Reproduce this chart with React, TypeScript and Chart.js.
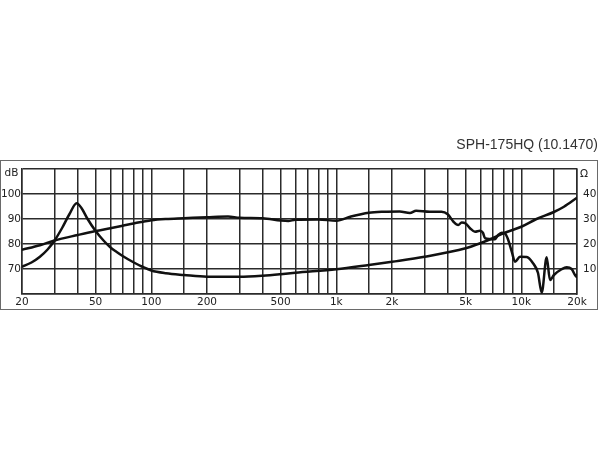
import { useEffect, useRef } from 'react';
import { Chart, registerables } from 'chart.js';

Chart.register(...registerables);

// ---- data ----
const titleText = 'SPH-175HQ (10.1470)';

const splFreq = [20, 25, 30, 40, 50, 60, 70, 80, 90, 100, 120, 150, 200, 260, 300, 400, 500, 550, 600, 800, 1000, 1200, 1500, 1800, 2200, 2500, 2700, 3200, 3700, 4000, 4300, 4560, 4760, 5000, 5280, 5620, 5980, 6200, 6370, 7200, 7500, 7840, 8170, 8500, 8880, 9250, 9840, 10700, 11570, 12300, 12890, 13710, 14290, 15000, 16500, 17580, 18710, 19900, 20000];
const splDb = [77.7, 79.5, 81.4, 83.6, 85.2, 86.3, 87.3, 88.2, 88.9, 89.5, 90.0, 90.3, 90.7, 91.0, 90.5, 90.3, 89.4, 89.2, 89.7, 89.8, 89.3, 91.0, 92.5, 92.9, 93.0, 92.4, 93.3, 92.9, 92.9, 91.9, 88.9, 87.6, 88.6, 88.2, 86.3, 84.9, 85.3, 84.5, 82.3, 81.9, 83.6, 84.5, 84.2, 81.6, 76.9, 72.9, 74.9, 74.8, 72.3, 68.5, 60.5, 74.7, 65.6, 67.6, 69.9, 70.7, 70.0, 66.9, 68.0];

const impFreq = [20, 22.5, 25, 27.5, 30, 33, 36, 39.5, 42, 45, 50, 55, 60, 65, 70, 80, 90, 100, 120, 150, 200, 300, 400, 500, 600, 1000, 1500, 2000, 3000, 5000, 6000, 7000, 8000, 10000, 12000, 15000, 17000, 20000];
const impOhm = [10.9, 12.6, 14.9, 17.8, 21.4, 26.5, 31.8, 36.3, 34.3, 30.3, 25.2, 21.5, 18.7, 16.8, 15.2, 12.7, 10.8, 9.4, 8.3, 7.6, 6.9, 6.9, 7.3, 7.9, 8.5, 9.9, 11.6, 12.9, 14.9, 18.3, 20.3, 22.3, 24.3, 26.9, 29.9, 32.8, 34.9, 38.5];

const gridFreqs = [20, 30, 40, 50, 60, 70, 80, 90, 100, 150, 200, 300, 400, 500, 600, 700, 800, 900, 1000, 1500, 2000, 3000, 4000, 5000, 6000, 7000, 8000, 9000, 10000, 15000, 20000];
const freqLabelValues = [20, 50, 100, 200, 500, 1000, 2000, 5000, 10000, 20000];
const freqLabelTexts = ['20', '50', '100', '200', '500', '1k', '2k', '5k', '10k', '20k'];

const dbGrid = [60, 65, 70, 75, 80, 85, 90, 95, 100, 105, 110];
const dbLabels = [70, 80, 90, 100];
const ohmGrid = [0, 5, 10, 15, 20, 25, 30, 35, 40, 45, 50];
const ohmLabels = [10, 20, 30, 40];
const dbUnit = 'dB';
const ohmUnit = 'Ω';

const tickFont = { family: '"DejaVu Sans", sans-serif', size: 10.5 };
const gridColor = '#2b2b2b';
const lineColor = '#111111';

export default function App() {
  const ref = useRef<HTMLCanvasElement | null>(null);

  useEffect(() => {
    if (!ref.current) return;

    const decor = {
      id: 'decor',
      afterDraw(chart: any) {
        const ctx = chart.ctx;
        ctx.save();
        // outer frame
        ctx.strokeStyle = '#6a6a6a';
        ctx.lineWidth = 1;
        ctx.strokeRect(0.5, 160.5, 597, 149);
        // title
        ctx.fillStyle = '#333333';
        ctx.font = '14px "Liberation Sans", Arial, sans-serif';
        ctx.textAlign = 'right';
        ctx.textBaseline = 'alphabetic';
        ctx.fillText(titleText, 598, 148.5);
        // unit labels
        ctx.fillStyle = '#222222';
        ctx.font = `${tickFont.size}px ${tickFont.family}`;
        ctx.textAlign = 'center';
        ctx.textBaseline = 'middle';
        ctx.fillText(dbUnit, 11.5, 173);
        ctx.textAlign = 'left';
        ctx.fillText(ohmUnit, 580, 174.5);
        ctx.restore();
      },
    };

    const chart = new Chart(ref.current, {
      type: 'line',
      data: {
        datasets: [
          {
            label: 'SPL',
            data: splFreq.map((f, i) => ({ x: f, y: splDb[i] })),
            borderColor: lineColor,
            borderWidth: 2.5,
            pointRadius: 0,
            cubicInterpolationMode: 'monotone',
            yAxisID: 'y',
          },
          {
            label: 'Impedance',
            data: impFreq.map((f, i) => ({ x: f, y: impOhm[i] })),
            borderColor: lineColor,
            borderWidth: 2.5,
            pointRadius: 0,
            cubicInterpolationMode: 'monotone',
            yAxisID: 'y2',
          },
        ],
      },
      options: {
        responsive: false,
        animation: false,
        devicePixelRatio: 1,
        layout: { padding: { top: 169, bottom: 450 - 294 - 16, left: 0, right: 0 } },
        plugins: { legend: { display: false }, tooltip: { enabled: false }, title: { display: false } },
        scales: {
          x: {
            type: 'logarithmic',
            min: 20,
            max: 20000,
            afterBuildTicks: (s: any) => {
              s.ticks = gridFreqs.map((v) => ({ value: v }));
            },
            afterFit: (s: any) => {
              s.height = 16;
            },
            ticks: {
              autoSkip: false,
              maxRotation: 0,
              padding: 2,
              color: '#222222',
              font: tickFont,
              callback: (v: any) => {
                const i = freqLabelValues.indexOf(Number(v));
                return i >= 0 ? freqLabelTexts[i] : '';
              },
            },
            grid: { color: gridColor, lineWidth: 1.5, drawTicks: false },
            border: { display: true, color: gridColor, width: 1.5 },
          },
          y: {
            type: 'linear',
            position: 'left',
            min: 60,
            max: 110,
            afterBuildTicks: (s: any) => {
              s.ticks = dbGrid.map((v) => ({ value: v }));
            },
            afterFit: (s: any) => {
              s.width = 22;
            },
            ticks: {
              padding: 1,
              color: '#222222',
              font: tickFont,
              callback: (v: any) => (dbLabels.includes(Number(v)) ? String(v) : ''),
            },
            grid: { color: gridColor, lineWidth: 1.5, drawTicks: false },
            border: { display: true, color: gridColor, width: 1.5 },
          },
          y2: {
            type: 'linear',
            position: 'right',
            min: 0,
            max: 50,
            afterBuildTicks: (s: any) => {
              s.ticks = ohmGrid.map((v) => ({ value: v }));
            },
            afterFit: (s: any) => {
              s.width = 23;
            },
            ticks: {
              padding: 6,
              color: '#222222',
              font: tickFont,
              callback: (v: any) => (ohmLabels.includes(Number(v)) ? String(v) : ''),
            },
            grid: { display: false, drawTicks: false },
            border: { display: true, color: gridColor, width: 1.5 },
          },
        },
      },
      plugins: [decor],
    } as any);

    return () => chart.destroy();
  }, []);

  return (
    <div style={{ position: 'absolute', left: 0, top: 0, width: 600, height: 450, background: '#ffffff' }}>
      <canvas ref={ref} width={600} height={450} style={{ display: 'block' }} />
    </div>
  );
}
